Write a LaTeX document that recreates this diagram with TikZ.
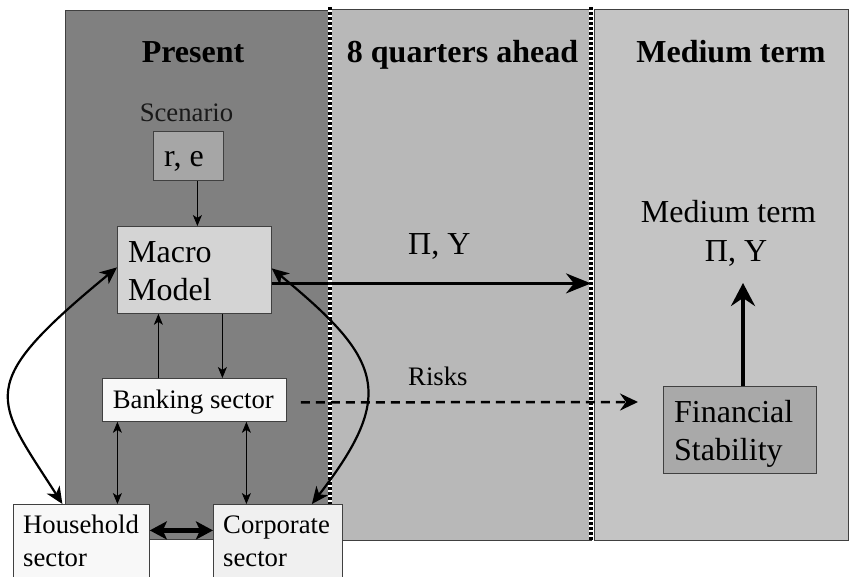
\documentclass[tikz,border=0pt]{standalone}
\usepackage{fontspec}
\setmainfont{Liberation Serif}
\usetikzlibrary{arrows.meta}
\definecolor{presfill}{HTML}{808080}
\definecolor{midfill}{HTML}{B8B8B8}
\definecolor{rgtfill}{HTML}{C4C4C4}
\definecolor{scenfill}{HTML}{A6A6A6}
\definecolor{macrofill}{HTML}{D4D4D4}
\definecolor{bankfill}{HTML}{F8F8F8}
\definecolor{hhfill}{HTML}{F8F8F8}
\definecolor{corpfill}{HTML}{F0F0F0}
\definecolor{finfill}{HTML}{A9A9A9}
\begin{document}
\begin{tikzpicture}[x=1pt,y=-1pt,
  box/.style={draw=black!75, line width=0.8pt, inner sep=0pt, anchor=north west},
  ttl/.style={font=\fontsize{32}{38}\selectfont\bfseries, inner sep=0pt, anchor=base},
  big/.style={font=\fontsize{32}{38}\selectfont, inner sep=0pt, anchor=base west},
  sml/.style={font=\fontsize{26.7}{32}\selectfont, inner sep=0pt, anchor=base west},
  panel/.style={draw=black!75, line width=0.8pt},
  divider/.style={line width=3.5pt, dash pattern=on 3pt off 2pt},
  thinarr/.style={line width=0.8pt, -{Stealth[length=11pt,width=9pt,inset=3pt]}},
  thinboth/.style={line width=0.8pt, {Stealth[length=11pt,width=9pt,inset=3pt]}-{Stealth[length=11pt,width=9pt,inset=3pt]}},
  curvearr/.style={line width=2.2pt, {Stealth[length=17pt,width=15pt,inset=5pt]}-{Stealth[length=17pt,width=15pt,inset=5pt]}},
  fatboth/.style={line width=5pt, {Stealth[length=17pt,width=18pt,inset=4pt]}-{Stealth[length=17pt,width=18pt,inset=4pt]}},
  pyarr/.style={line width=2.8pt, -{Stealth[length=25pt,width=20pt,inset=8pt]}},
  riskarr/.style={line width=2.5pt, dash pattern=on 9pt off 6pt, -{Stealth[length=18pt,width=17pt,inset=6pt]}},
  uparr/.style={line width=4pt, -{Stealth[length=23pt,width=24pt,inset=8pt]}}
]
\useasboundingbox (0,0) rectangle (849,576);
\fill[white] (0,0) rectangle (849,576);
% panels
\draw[panel, fill=presfill] (65,10) rectangle (330,539);
\draw[panel, fill=midfill] (330,9) rectangle (591,540);
\draw[panel, fill=rgtfill] (594,9) rectangle (848,540);
\draw[divider, white, dash pattern=] (330,7) -- (330,540);
\draw[divider] (330,7) -- (330,540);
\draw[divider, white, dash pattern=] (591,7) -- (591,540);
\draw[divider] (591,7) -- (591,540);
% titles
\node[ttl] (t1) at (193,62) {Present};
\node[ttl] (t2) at (462.5,62) {8 quarters ahead};
\node[ttl] (t3) at (731,62) {Medium term};
% boxes
\node[sml, anchor=base, text=black!90] (scen) at (186.5,121) {Scenario};
\node[box, fill=scenfill, minimum width=70pt, minimum height=49pt] (re) at (153,131) {};
\node[big] (ret) at (164,166) {r, e};
\node[box, fill=macrofill, minimum width=154pt, minimum height=87pt] (macro) at (117,226) {};
\node[big] (mac1) at (128,262) {Macro};
\node[big] (mac2) at (128,300) {Model};
\node[box, fill=bankfill, minimum width=184pt, minimum height=43pt] (bank) at (102,378) {};
\node[sml] (bankt) at (112.7,408) {Banking sector};
\node[box, fill=hhfill, minimum width=136pt, minimum height=96pt] (hh) at (13,504) {};
\node[sml] (hh1) at (23,533) {Household};
\node[sml] (hh2) at (23,566) {sector};
\node[box, fill=corpfill, minimum width=129pt, minimum height=96pt] (corp) at (213,504) {};
\node[sml] (corp1) at (223,533) {Corporate};
\node[sml] (corp2) at (223,566) {sector};
\node[box, fill=finfill, minimum width=153pt, minimum height=87pt] (fin) at (663,386) {};
\node[big] (fin1) at (674,422) {Financial};
\node[big] (fin2) at (674,460) {Stability};
\node[big, anchor=base] (mt1) at (728.5,222) {Medium term};
\node[big, anchor=base] (mt2) at (736,261) {Π, Y};
\node[big] (py) at (408,254) {Π, Y};
\node[sml] (risk) at (408,385) {Risks};
% coordinates
\coordinate (div2) at (591,0);
\coordinate (riskend) at (638,402);
\coordinate (upend) at (743,283);
% connectors
\draw[thinarr] ([xshift=9pt]re.south) -- ([xshift=9pt]re.south |- macro.north);
\draw[thinarr] ([xshift=-36pt]bank.north) -- ([xshift=-36pt]bank.north |- macro.south);
\draw[thinarr] ([xshift=28pt]macro.south) -- ([xshift=28pt]macro.south |- bank.north);
\draw[thinboth] ([xshift=-77pt]bank.south) -- ([xshift=-77pt]bank.south |- hh.north);
\draw[thinboth] ([xshift=52pt]bank.south) -- ([xshift=52pt]bank.south |- corp.north);
\draw[fatboth] ([yshift=22pt]hh.east) -- ([yshift=22pt]corp.west);
\draw[pyarr] ([yshift=-13.5pt]macro.east) -- ([yshift=-13.5pt]macro.east -| div2);
\draw[riskarr] ([xshift=14pt,yshift=-2.5pt]bank.east) -- (riskend);
\draw[uparr] (fin.north -| upend) -- (upend);
\draw[curvearr] ([yshift=2.5pt]macro.west) .. controls (-27,386) and (-6,397) .. ([xshift=-19pt]hh.north);
\draw[curvearr] ([yshift=1.5pt]macro.east) .. controls (382,359) and (397,394) .. ([xshift=34pt]corp.north);
\end{tikzpicture}
\end{document}
